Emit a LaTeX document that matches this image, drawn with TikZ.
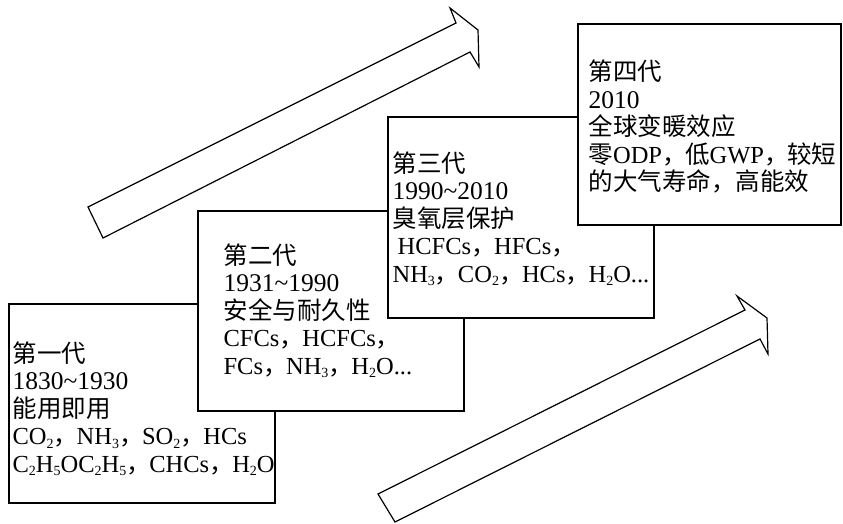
\documentclass[tikz,border=0pt]{standalone}
\usepackage{fontspec}
\setmainfont{Liberation Serif}
\newfontfamily\cjk{Noto Sans CJK SC}
\newcommand\zh[1]{{\cjk #1}}
\newcommand\sbs[1]{\raisebox{-3.5pt}{\fontsize{14}{14}\selectfont #1}}
\newcommand\cmm{\zh{，}\hspace{-1.5pt}}
\newcommand\tld{\textasciitilde}
\newcommand\yr[1]{{\fontsize{25.5}{27.5}\selectfont #1}}
\tikzset{
  genbox/.style={draw=black, fill=white, rectangle, inner sep=0pt, outer sep=0pt, anchor=north west},
  gentext/.style={anchor=base west, inner sep=0pt, font=\fontsize{24.5}{27.5}\selectfont},
  bigarrow/.style={draw=black, fill=white, line join=miter}
}
\begin{document}
\begin{tikzpicture}[x=1pt, y=-1pt, line width=1.2pt]
\useasboundingbox (0,0) rectangle (843,524);
% arrows
\draw[bigarrow] (88,207) -- (456,23) -- (450,8) -- (478,30) -- (479,67) -- (470,52) -- (103,238) -- cycle;
\draw[bigarrow] (378,494) -- (745,310) -- (737,296) -- (767,318) -- (768,354) -- (760,339) -- (395,522) -- cycle;
% boxes
\node[genbox, minimum width=266pt, minimum height=199pt] (b1) at (9,304) {};
\node[gentext] (t1) at (12,362) {\parbox[t]{300pt}{\raggedright
\zh{第一代}\\
\yr{1830\tld1930}\\
\zh{能用即用}\\
CO\sbs{2}\cmm NH\sbs{3}\cmm SO\sbs{2}\cmm HCs\\
C\sbs{2}H\sbs{5}OC\sbs{2}H\sbs{5}\cmm CHCs\cmm H\sbs{2}O}};
\node[genbox, minimum width=266pt, minimum height=200pt] (b2) at (198,211) {};
\node[gentext] (t2) at (223,264) {\parbox[t]{300pt}{\raggedright
\zh{第二代}\\
\yr{1931\tld1990}\\
\zh{安全与耐久性}\\
CFCs\cmm HCFCs\cmm\\
FCs\cmm NH\sbs{3}\cmm H\sbs{2}O...}};
\node[genbox, minimum width=266pt, minimum height=201pt] (b3) at (388,117) {};
\node[gentext] (t3) at (392,172) {\parbox[t]{300pt}{\raggedright
\zh{第三代}\\
\yr{1990\tld2010}\\
\zh{臭氧层保护}\\
\hspace*{5pt}HCFCs\cmm HFCs\cmm\\
NH\sbs{3}\cmm CO\sbs{2}\cmm HCs\cmm H\sbs{2}O...}};
\node[genbox, minimum width=263pt, minimum height=201pt] (b4) at (578,24) {};
\node[gentext] (t4) at (588,81) {\parbox[t]{300pt}{\raggedright
\zh{第四代}\\
\yr{2010}\\
\zh{全球变暖效应}\\
\zh{零}ODP\cmm\zh{低}GWP\cmm\zh{较短}\\
\zh{的大气寿命，高能效}}};
\end{tikzpicture}
\end{document}
